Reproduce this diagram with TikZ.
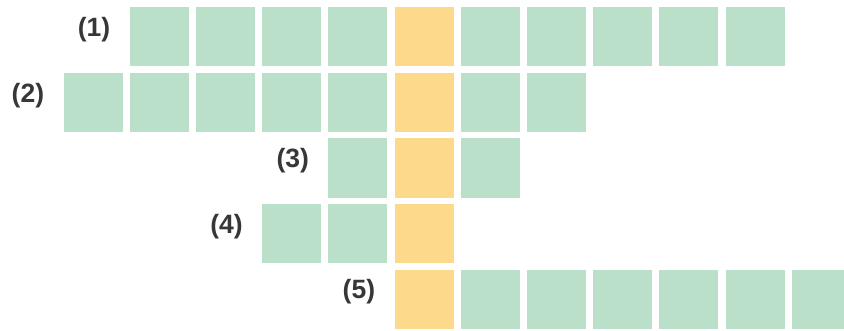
\documentclass[tikz,border=0pt]{standalone}
\usepackage{fontspec}
\setmainfont{Liberation Sans}
\usetikzlibrary{positioning}
\definecolor{cellgreen}{RGB}{186,224,201}
\definecolor{cellyellow}{RGB}{253,217,140}
\definecolor{numgray}{RGB}{55,55,55}

\begin{document}
\begin{tikzpicture}[x=1pt, y=1pt,
  cell/.style={minimum size=59pt, inner sep=0pt, fill=cellgreen},
  key/.style={cell, fill=cellyellow},
  num/.style={inner sep=0pt, text=numgray, yshift=7pt,
    font=\fontsize{26.5}{31}\selectfont\bfseries}]
  \useasboundingbox (0,0) rectangle (844,330);
  \clip (0,0) rectangle (844,330);
  % row (1)
  \foreach \c in {1,2,3,4,6,7,8,9,10}
    \node[cell] (r1c\c) at (93+66.2*\c, 293) {};
  % row (2)
  \foreach \c in {0,1,2,3,4,6,7}
    \node[cell] (r2c\c) at (93+66.2*\c, 227.5) {};
  % row (3)
  \foreach \c in {4,6}
    \node[cell] (r3c\c) at (93+66.2*\c, 162) {};
  % row (4)
  \foreach \c in {3,4}
    \node[cell] (r4c\c) at (93+66.2*\c, 96.5) {};
  % row (5)
  \foreach \c in {6,...,11}
    \node[cell] (r5c\c) at (93+66.2*\c, 31) {};
  % key column
  \foreach \r/\y in {1/293,2/227.5,3/162,4/96.5,5/31}
    \node[key] (r\r c5) at (93+66.2*5, \y) {};
  % numbers
  \node[num, left=19pt of r1c1] (n1) {(1)};
  \node[num, left=19pt of r2c0] (n2) {(2)};
  \node[num, left=19pt of r3c4] (n3) {(3)};
  \node[num, left=19pt of r4c3] (n4) {(4)};
  \node[num, left=19pt of r5c5] (n5) {(5)};
\end{tikzpicture}
\end{document}
